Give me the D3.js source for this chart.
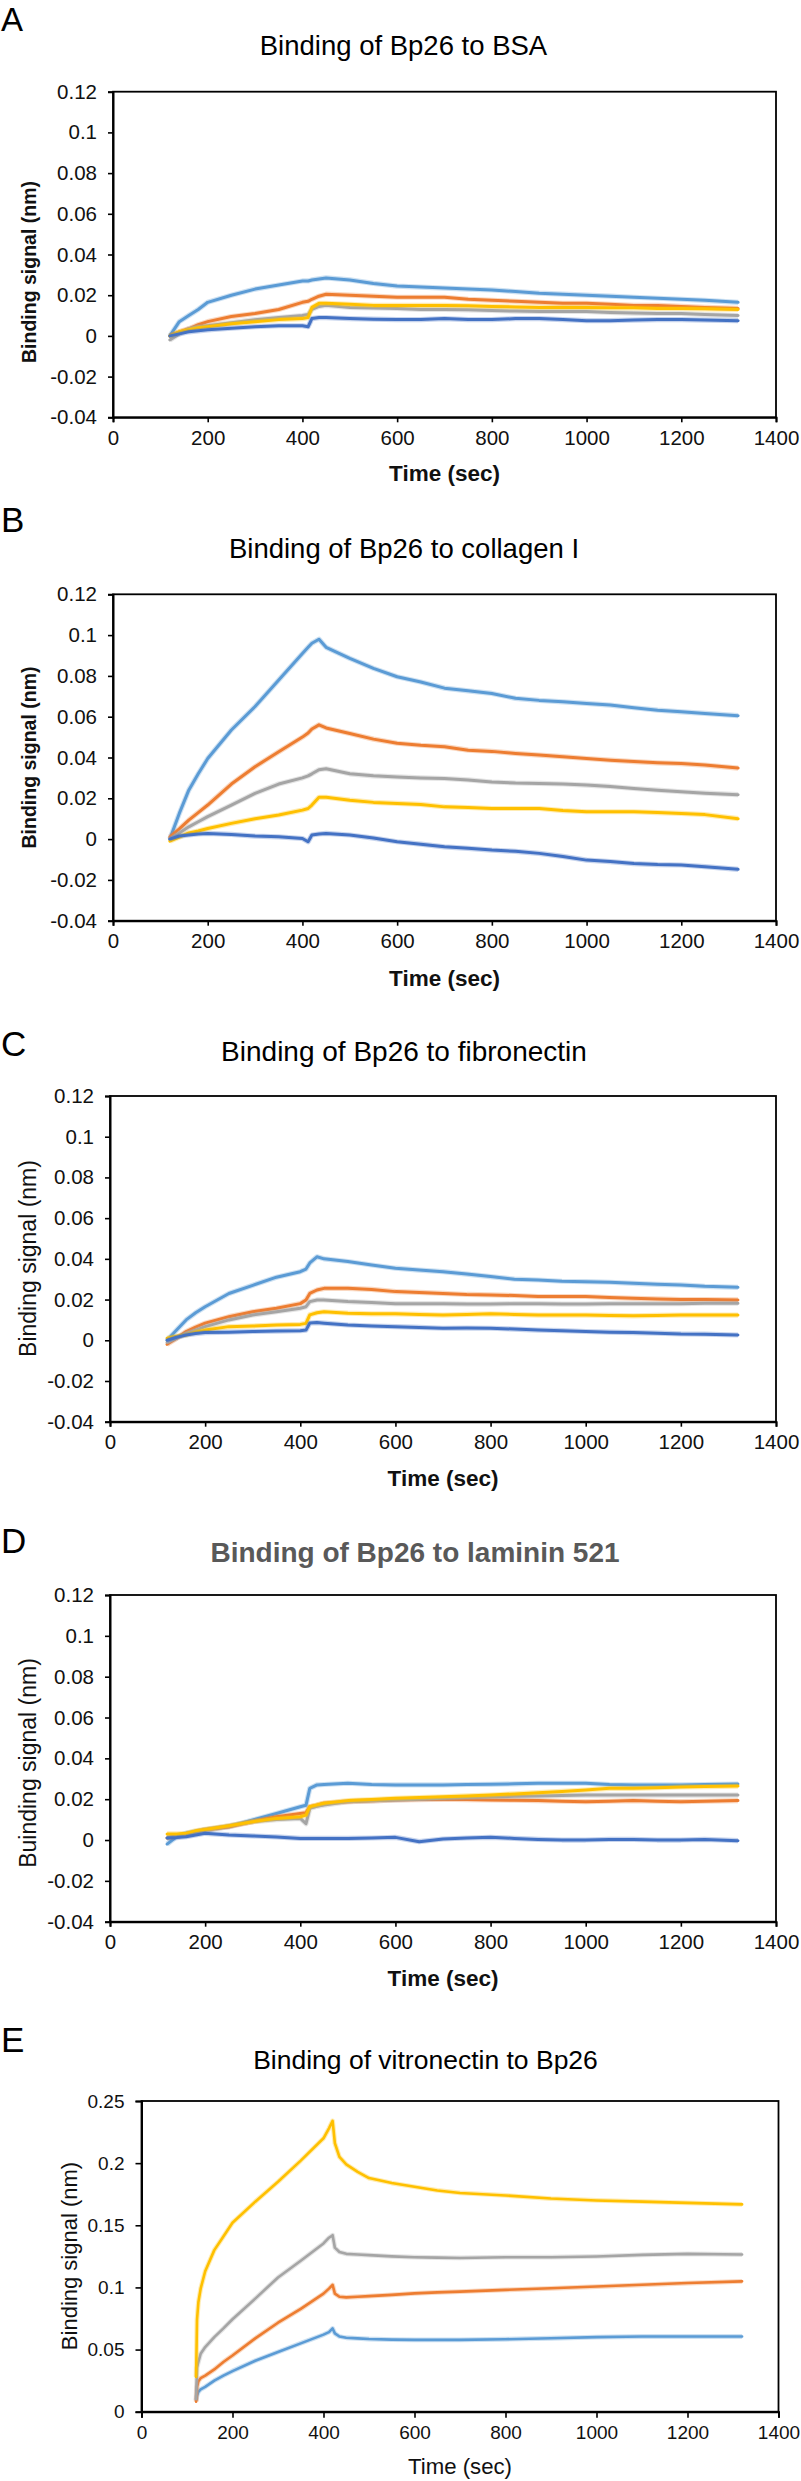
<!DOCTYPE html>
<html><head><meta charset="utf-8">
<script src="https://cdn.jsdelivr.net/npm/d3@7"></script>
<style>
body{margin:0;background:#fff}
svg{display:block}
text{font-family:"Liberation Sans",Arial,sans-serif}
</style>
</head><body>
<svg id="c" width="801" height="2481"></svg>
<script>
// ---------- data ----------
const timeAD = [120,140,160,180,200,250,300,350,400,412,420,435,450,500,550,600,650,700,750,800,850,900,950,1000,1050,1100,1150,1200,1250,1320];
const timeE  = [120,122,125,130,140,160,180,200,250,300,350,400,412,420,425,435,450,475,500,550,600,650,700,800,900,1000,1100,1200,1320];

const xTickValues = [0,200,400,600,800,1000,1200,1400];
const yTicksAD = [-0.04,-0.02,0,0.02,0.04,0.06,0.08,0.1,0.12];
const yTicksE = [0,0.05,0.1,0.15,0.2,0.25];

const seriesColors = ["#5B9BD5","#ED7D31","#A5A5A5","#FFC000","#4472C4"];
const panelTitles = ["Binding of Bp26 to BSA","Binding of Bp26 to collagen I","Binding of Bp26 to fibronectin","Binding of Bp26 to laminin 521","Binding of vitronectin to Bp26"];
const panelLetters = ["A","B","C","D","E"];
const yAxisTitles = ["Binding signal (nm)","Binding signal (nm)","Binding signal (nm)","Buinding signal (nm)","Binding signal (nm)"];
const xAxisTitle = "Time (sec)";

// A: BSA
const bsaLightBlue = [0,0.007,0.010,0.013,0.0165,0.020,0.023,0.025,0.027,0.027,0.0275,0.028,0.0285,0.0275,0.0258,0.0245,0.024,0.0235,0.023,0.0226,0.0218,0.021,0.0205,0.020,0.0195,0.019,0.0185,0.018,0.0175,0.0165];
const bsaOrange    = [0,0.002,0.0035,0.0055,0.007,0.0095,0.011,0.013,0.0165,0.017,0.018,0.0195,0.0205,0.020,0.0195,0.019,0.019,0.019,0.018,0.0175,0.017,0.0165,0.016,0.016,0.0155,0.015,0.015,0.0145,0.014,0.0135];
const bsaGray      = [-0.002,0.001,0.0035,0.0045,0.005,0.0065,0.008,0.009,0.010,0.0105,0.013,0.0145,0.015,0.014,0.0137,0.0135,0.013,0.013,0.0128,0.0125,0.0122,0.012,0.012,0.012,0.0115,0.0112,0.011,0.011,0.0105,0.010];
const bsaYellow    = [0,0.002,0.003,0.004,0.0045,0.006,0.007,0.008,0.0085,0.009,0.014,0.016,0.016,0.0155,0.015,0.015,0.015,0.015,0.0148,0.0145,0.0142,0.014,0.014,0.014,0.0138,0.0138,0.0135,0.0135,0.0133,0.013];
const bsaDarkBlue  = [0,0.001,0.002,0.0025,0.003,0.0038,0.0045,0.005,0.005,0.0045,0.0085,0.009,0.009,0.0085,0.0082,0.008,0.008,0.0085,0.008,0.008,0.0085,0.0085,0.008,0.0075,0.0075,0.0078,0.008,0.008,0.0078,0.0075];

// B: collagen I
const colLightBlue = [0,0.0126,0.024,0.032,0.0395,0.0535,0.065,0.078,0.091,0.094,0.096,0.098,0.094,0.0886,0.0837,0.0796,0.077,0.074,0.0727,0.0714,0.069,0.068,0.0673,0.0665,0.0657,0.0644,0.0632,0.0624,0.0616,0.0605];
const colOrange    = [0.001,0.005,0.0093,0.013,0.0167,0.027,0.0355,0.0428,0.050,0.052,0.054,0.056,0.0545,0.0518,0.049,0.047,0.046,0.0453,0.0436,0.043,0.042,0.0412,0.0404,0.0395,0.0387,0.038,0.0374,0.037,0.0363,0.0348];
const colGray      = [0,0.003,0.006,0.0085,0.011,0.0167,0.0224,0.027,0.030,0.031,0.032,0.034,0.0345,0.032,0.031,0.0305,0.030,0.0297,0.029,0.028,0.0275,0.0273,0.027,0.0265,0.0258,0.0248,0.024,0.0232,0.0225,0.0218];
const colYellow    = [-0.001,0.001,0.003,0.004,0.0052,0.0077,0.010,0.0118,0.0142,0.015,0.0167,0.0205,0.0205,0.0191,0.018,0.0175,0.017,0.0158,0.0155,0.015,0.015,0.015,0.014,0.0134,0.0134,0.0134,0.013,0.0126,0.012,0.010];
const colDarkBlue  = [0,0.0015,0.002,0.0025,0.0028,0.0023,0.0015,0.0011,0.0003,-0.0013,0.002,0.0025,0.0028,0.002,0.0005,-0.0013,-0.0025,-0.0038,-0.0045,-0.0054,-0.006,-0.007,-0.0085,-0.0103,-0.011,-0.012,-0.0125,-0.0127,-0.0135,-0.0148];

// C: fibronectin
const fibLightBlue = [0,0.005,0.010,0.0135,0.0165,0.023,0.027,0.031,0.0337,0.035,0.038,0.041,0.040,0.0387,0.037,0.0354,0.0345,0.0337,0.0325,0.0313,0.030,0.0296,0.029,0.0288,0.0285,0.028,0.0275,0.0272,0.0265,0.026];
const fibOrange    = [-0.002,0.001,0.0043,0.0065,0.0084,0.0116,0.014,0.0157,0.018,0.0198,0.023,0.0247,0.0255,0.0255,0.025,0.0239,0.0235,0.023,0.0225,0.0223,0.022,0.0215,0.0215,0.0215,0.021,0.0206,0.0203,0.020,0.020,0.0198];
const fibGray      = [-0.001,0.001,0.0034,0.005,0.0067,0.010,0.0124,0.014,0.0157,0.0165,0.019,0.0198,0.0198,0.019,0.0185,0.018,0.018,0.018,0.0178,0.0178,0.018,0.018,0.0178,0.0178,0.018,0.018,0.018,0.018,0.0182,0.0182];
const fibYellow    = [0.001,0.002,0.0026,0.004,0.005,0.0067,0.007,0.0075,0.0078,0.0083,0.0125,0.0135,0.014,0.0133,0.013,0.013,0.0127,0.0124,0.0127,0.013,0.0127,0.0124,0.0124,0.0124,0.0122,0.012,0.0122,0.0124,0.0124,0.0124];
const fibDarkBlue  = [0,0.0015,0.0026,0.0033,0.0038,0.004,0.0043,0.0045,0.0047,0.005,0.0085,0.0087,0.0084,0.0075,0.007,0.0067,0.0063,0.0059,0.006,0.0059,0.0055,0.005,0.0047,0.0043,0.004,0.0038,0.0035,0.0031,0.003,0.0026];

// D: laminin 521
const lamLightBlue = [-0.002,0.0016,0.0033,0.0042,0.005,0.0065,0.0098,0.013,0.0163,0.017,0.0253,0.027,0.0272,0.0278,0.0272,0.027,0.027,0.027,0.0272,0.0273,0.0275,0.0278,0.0278,0.0278,0.0272,0.027,0.027,0.027,0.0272,0.0274];
const lamOrange    = [0.001,0.002,0.0025,0.004,0.005,0.0065,0.009,0.0114,0.013,0.0134,0.0163,0.017,0.018,0.0188,0.0192,0.0196,0.0198,0.020,0.0198,0.0196,0.0195,0.0193,0.019,0.0188,0.019,0.0193,0.019,0.0188,0.019,0.0193];
const lamGray      = [0.001,0.002,0.003,0.004,0.005,0.007,0.009,0.010,0.0106,0.008,0.0155,0.0165,0.0171,0.0188,0.0192,0.0196,0.020,0.0204,0.0208,0.0212,0.0214,0.0216,0.0218,0.022,0.022,0.022,0.022,0.022,0.022,0.022];
const lamYellow    = [0.003,0.003,0.0033,0.0045,0.0052,0.007,0.009,0.0106,0.0114,0.0122,0.0163,0.0172,0.018,0.0193,0.0198,0.0204,0.0208,0.0212,0.0216,0.022,0.0226,0.0232,0.0238,0.0245,0.0253,0.0253,0.0256,0.026,0.0262,0.0264];
const lamDarkBlue  = [0.001,0.0012,0.0016,0.0025,0.0033,0.0025,0.002,0.0015,0.0008,0.0008,0.0008,0.0008,0.0008,0.0008,0.001,0.0013,-0.0008,0.0005,0.001,0.0013,0.0008,0.0003,0,0,0.0003,0.0003,0,0,0.0003,-0.0003];

// E: vitronectin (4 series)
const vitLightBlue = [0.009,0.013,0.016,0.018,0.020,0.025,0.029,0.0327,0.041,0.048,0.055,0.062,0.064,0.067,0.063,0.0605,0.0595,0.059,0.0585,0.058,0.0578,0.0578,0.0578,0.0583,0.0591,0.060,0.0605,0.0605,0.0605];
const vitOrange    = [0.008,0.020,0.0244,0.027,0.029,0.034,0.040,0.0452,0.059,0.0716,0.0827,0.095,0.099,0.102,0.095,0.0925,0.092,0.0925,0.093,0.094,0.0952,0.096,0.0966,0.098,0.0993,0.1007,0.1021,0.1035,0.1049];
const vitGray      = [0.010,0.0355,0.040,0.0466,0.052,0.060,0.067,0.0744,0.091,0.108,0.1215,0.1354,0.140,0.142,0.132,0.1285,0.127,0.1265,0.126,0.125,0.1243,0.124,0.1237,0.1243,0.1243,0.1249,0.1262,0.127,0.1265];
const vitYellow    = [0.028,0.074,0.088,0.099,0.113,0.130,0.141,0.152,0.169,0.185,0.202,0.220,0.228,0.234,0.216,0.205,0.199,0.193,0.188,0.184,0.181,0.178,0.176,0.174,0.1715,0.170,0.169,0.168,0.1668];

// ---------- layout (not data) ----------
const panels = [
  {time:timeAD, series:[bsaLightBlue,bsaOrange,bsaGray,bsaYellow,bsaDarkBlue], colorIdx:[0,1,2,3,4], yTicks:yTicksAD,
   L:113,R:776,T:91.7,B:417.3, letterY:31, titleX:403.5, titleY:55, titleSize:27.5, titleW:"normal", titleC:"#000",
   ylX:29, ylY:272, ylSize:19.5, ylW:"bold", xlSize:22.5, xlW:"bold", xlDy:64, tickSize:20.5, tickLen:5, sw:3},
  {time:timeAD, series:[colLightBlue,colOrange,colGray,colYellow,colDarkBlue], colorIdx:[0,1,2,3,4], yTicks:yTicksAD,
   L:113,R:776,T:594.3,B:920.7, letterY:532, titleX:404, titleY:558, titleSize:27.5, titleW:"normal", titleC:"#000",
   ylX:29, ylY:757.5, ylSize:19.5, ylW:"bold", xlSize:22.5, xlW:"bold", xlDy:65, tickSize:20.5, tickLen:5, sw:3},
  {time:timeAD, series:[fibLightBlue,fibOrange,fibGray,fibYellow,fibDarkBlue], colorIdx:[0,1,2,3,4], yTicks:yTicksAD,
   L:110,R:776,T:1096,B:1421.7, letterY:1056, titleX:404, titleY:1061, titleSize:28, titleW:"normal", titleC:"#000",
   ylX:28, ylY:1258.5, ylSize:23, ylW:"normal", xlSize:22.5, xlW:"bold", xlDy:64, tickSize:20.5, tickLen:5, sw:3},
  {time:timeAD, series:[lamLightBlue,lamOrange,lamGray,lamYellow,lamDarkBlue], colorIdx:[0,1,2,3,4], yTicks:yTicksAD,
   L:110,R:776,T:1595,B:1921.7, letterY:1553, titleX:415, titleY:1562, titleSize:28, titleW:"bold", titleC:"#595959",
   ylX:28, ylY:1763, ylSize:23, ylW:"normal", xlSize:22.5, xlW:"bold", xlDy:64, tickSize:20.5, tickLen:5, sw:3},
  {time:timeE, series:[vitLightBlue,vitOrange,vitGray,vitYellow], colorIdx:[0,1,2,3], yTicks:yTicksE,
   L:141.5,R:778.5,T:2101,B:2411.7, letterY:2052, titleX:425.5, titleY:2069, titleSize:26.5, titleW:"normal", titleC:"#000",
   ylX:69, ylY:2256, ylSize:22, ylW:"normal", xlSize:22.2, xlW:"normal", xlDy:62, tickSize:19, tickLen:6, sw:2.6}
];

const svg = d3.select("#c");
const fmt = v => String(+v.toFixed(2));

panels.forEach((p, i) => {
  const yDom = d3.extent(p.yTicks);
  const x = d3.scaleLinear().domain([0,1400]).range([p.L,p.R]);
  const y = d3.scaleLinear().domain(yDom).range([p.B,p.T]);
  const g = svg.append("g");

  // panel letter
  svg.append("text").attr("x",1).attr("y",p.letterY).attr("font-size",i === 0 ? 33 : 35)
    .attr("fill","#000").text(panelLetters[i]);
  // title
  svg.append("text").attr("x",p.titleX).attr("y",p.titleY).attr("text-anchor","middle")
    .attr("font-size",p.titleSize).attr("font-weight",p.titleW).attr("fill",p.titleC).text(panelTitles[i]);

  // series
  const line = d3.line().x((d,k) => x(p.time[k])).y(d => y(d));
  p.series.forEach((vals, s) => {
    const col = seriesColors[p.colorIdx[s]];
    g.append("path").attr("d", line(vals)).attr("fill","none").attr("stroke",col)
      .attr("stroke-width",p.sw+2.2).attr("stroke-opacity",0.3).attr("stroke-linejoin","round");
    g.append("path").attr("d", line(vals)).attr("fill","none").attr("stroke",col)
      .attr("stroke-width",p.sw).attr("stroke-linejoin","round").attr("stroke-linecap","round");
  });

  // frame
  svg.append("rect").attr("x",p.L).attr("y",p.T).attr("width",p.R-p.L).attr("height",p.B-p.T)
    .attr("fill","none").attr("stroke","#000").attr("stroke-width",1.8);

  // axes
  const yAxis = d3.axisLeft(y).tickValues(p.yTicks).tickFormat(fmt).tickSize(p.tickLen).tickPadding(11);
  const xAxis = d3.axisBottom(x).tickValues(xTickValues).tickFormat(d3.format("d")).tickSize(p.tickLen).tickPadding(8);
  const ya = svg.append("g").attr("transform",`translate(${p.L},0)`).call(yAxis);
  const xa = svg.append("g").attr("transform",`translate(0,${p.B})`).call(xAxis);
  [ya,xa].forEach(a => {
    a.select(".domain").attr("stroke","#000").attr("stroke-width",2);
    a.selectAll(".tick line").attr("stroke","#000").attr("stroke-width",1.6);
    a.selectAll(".tick text").attr("font-size",p.tickSize).attr("fill","#111")
      .attr("font-family",'"Liberation Sans",Arial,sans-serif');
  });

  // axis titles
  svg.append("text").attr("x",(p.L+p.R)/2).attr("y",p.B+p.xlDy).attr("text-anchor","middle")
    .attr("font-size",p.xlSize).attr("font-weight",p.xlW).attr("fill","#111").text(xAxisTitle);
  svg.append("text").attr("transform",`translate(${p.ylX},${p.ylY}) rotate(-90)`)
    .attr("text-anchor","middle").attr("dominant-baseline","central")
    .attr("font-size",p.ylSize).attr("font-weight",p.ylW).attr("fill","#111").text(yAxisTitles[i]);
});
</script>
</body></html>
